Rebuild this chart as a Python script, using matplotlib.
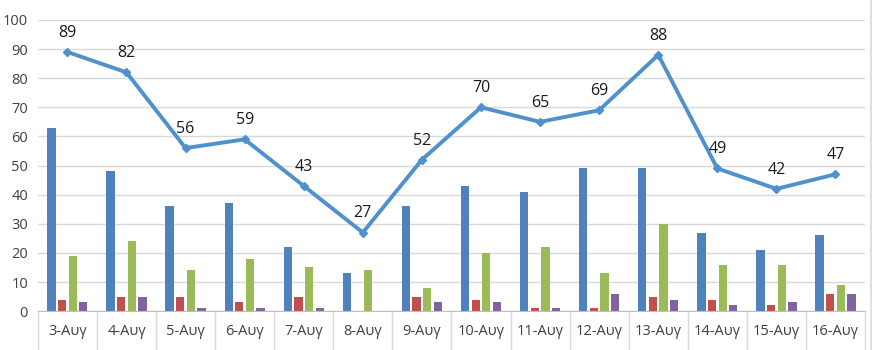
import matplotlib
matplotlib.use("Agg")
import matplotlib.pyplot as plt
import numpy as np

plt.rcParams['font.family'] = ['Open Sans', 'DejaVu Sans']

days = ["3-Αυγ", "4-Αυγ", "5-Αυγ", "6-Αυγ", "7-Αυγ", "8-Αυγ", "9-Αυγ",
        "10-Αυγ", "11-Αυγ", "12-Αυγ", "13-Αυγ", "14-Αυγ", "15-Αυγ", "16-Αυγ"]
series_blue = [63, 48, 36, 37, 22, 13, 36, 43, 41, 49, 49, 27, 21, 26]
series_red = [4, 5, 5, 3, 5, 0, 5, 4, 1, 1, 5, 4, 2, 6]
series_green = [19, 24, 14, 18, 15, 14, 8, 20, 22, 13, 30, 16, 16, 9]
series_purple = [3, 5, 1, 1, 1, 0, 3, 3, 1, 6, 4, 2, 3, 6]
totals = [89, 82, 56, 59, 43, 27, 52, 70, 65, 69, 88, 49, 42, 47]

colors = ["#4F81BD", "#C0504D", "#9BBB59", "#8064A2"]
line_color = "#4F91CD"

fig = plt.figure(figsize=(8.8, 3.5), dpi=100)
ax = fig.add_axes([0.043, 0.111, 0.940, 0.832])

x = np.arange(len(days))
step = 0.18
width = 0.14
for k, (vals, c) in enumerate(zip([series_blue, series_red, series_green, series_purple], colors)):
    ax.bar(x + (k - 1.5) * step, vals, width=width, color=c, zorder=2)

ax.plot(x, totals, color=line_color, lw=2.8, marker="D", markersize=4.5, zorder=3,
        solid_joinstyle="round")
for xi, v in zip(x, totals):
    ax.annotate(str(v), (xi, v), xytext=(0, 8), textcoords="offset points",
                ha="center", va="bottom", fontsize=11.5, color="#1a1a1a")

ax.set_xlim(-0.5, len(days) - 0.5)
ax.set_ylim(0, 100)
ax.set_yticks(np.arange(0, 101, 10))
ax.yaxis.grid(True, color="#D9D9D9", lw=1.0, zorder=0)
ax.set_axisbelow(True)

ax.set_xticks(x)
ax.set_xticklabels(days)
ax.set_xticks(np.arange(-0.5, len(days), 1.0), minor=True)
ax.tick_params(axis="x", which="major", length=0, pad=9, labelsize=10.5, labelcolor="#404040")
ax.tick_params(axis="x", which="minor", length=40, color="#D9D9D9", width=1.0)
ax.tick_params(axis="y", length=0, pad=7, labelsize=10.5, labelcolor="#404040")

for s in ["top", "right", "left"]:
    ax.spines[s].set_visible(False)
ax.spines["bottom"].set_color("#BFBFBF")

fig.add_artist(plt.Line2D([0.99, 0.99], [0, 1], color="#E0E0E0", lw=1.5))

fig.savefig("out.png", dpi=100)
